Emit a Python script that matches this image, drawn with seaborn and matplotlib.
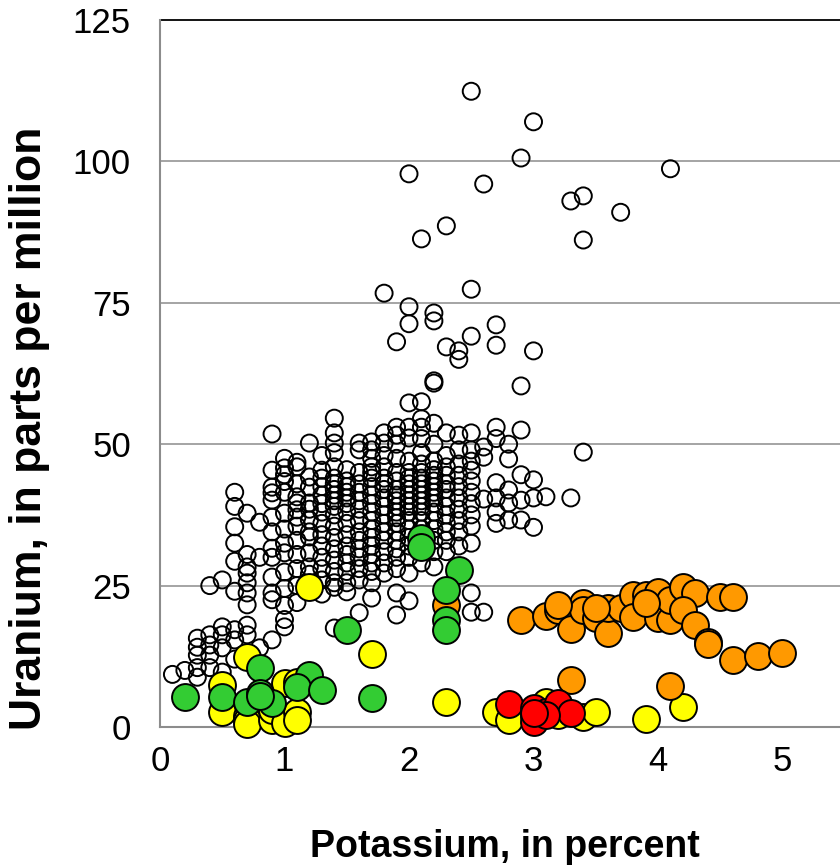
import matplotlib
matplotlib.use("Agg")
import matplotlib.pyplot as plt
import seaborn as sns
import pandas as pd
import numpy as np
from matplotlib.ticker import MultipleLocator

# ---------------- data ----------------
open_cols = {
    0.1: [9.3],
    0.2: [10.0],
    0.3: [15.7, 14.1, 12.7, 8.8, 10.5],
    0.4: [25.0, 16.3, 14.5, 12.7, 10.5],
    0.5: [26.0, 17.7, 16.3, 9.7, 14.0],
    0.6: [41.5, 39.0, 35.4, 32.5, 29.3, 24.0, 17.2, 15.4, 12.0],
    0.7: [37.8, 30.5, 28.3, 27.2, 25.5, 23.7, 21.6, 18.0, 16.3],
    0.8: [36.2, 30.0, 14.0],
    0.9: [51.8, 45.4, 42.4, 41.4, 40.1, 37.1, 34.5, 31.6, 30.0, 26.5, 23.7, 22.5, 15.4],
    1.0: [47.5, 45.8, 44.6, 43.4, 41.5, 37.8, 35.0, 32.5, 30.8, 27.4, 24.5, 21.5, 19.0, 17.7],
    1.1: [46.8, 46.0, 43.0, 40.7, 39.6, 38.4, 37.1, 35.5, 33.0, 30.5, 28.0, 25.0, 22.0],
    1.2: [50.2, 44.2, 42.4, 39.6, 38.5, 36.6, 34.5, 33.6, 30.8, 28.3, 27.0],
    1.3: [48.0, 45.4, 44.0, 42.5, 41.0, 39.5, 38.0, 36.0, 34.0, 32.0, 30.0, 28.0, 26.0, 23.5],
    1.4: [54.6, 52.0, 50.2, 48.5, 46.0, 44.0, 43.0, 42.0, 41.0, 40.0, 39.0, 37.5, 35.5,
          33.5, 31.5, 29.5, 27.5, 25.5, 24.7, 17.5],
    1.5: [45.5, 43.5, 42.5, 41.5, 40.5, 39.5, 38.0, 36.0, 34.0, 32.0, 30.5, 29.0, 27.5,
          25.5, 23.9],
    1.6: [50.2, 49.0, 45.0, 43.0, 41.5, 40.0, 38.5, 36.5, 34.5, 33.0, 31.5, 30.0, 28.0,
          26.0, 20.2],
    1.7: [50.4, 49.0, 47.5, 46.0, 45.0, 44.0, 42.5, 41.0, 39.5, 38.0, 36.5, 35.0, 33.5,
          32.0, 30.5, 29.0, 27.5, 25.5, 22.8],
    1.8: [76.7, 52.0, 50.2, 48.0, 46.0, 44.0, 43.0, 42.0, 40.5, 39.0, 37.5, 36.0, 34.5,
          33.0, 31.0, 29.0, 27.2],
    1.9: [68.1, 53.0, 51.6, 50.0, 47.5, 45.0, 43.5, 42.0, 41.0, 40.0, 39.0, 38.0, 37.0,
          36.0, 34.5, 33.0, 31.5, 30.0, 28.0, 23.7, 19.8],
    2.0: [97.8, 74.3, 71.3, 57.3, 53.0, 51.1, 47.0, 45.0, 44.0, 43.0, 42.0, 41.0, 40.0,
          39.0, 38.0, 36.5, 35.0, 33.5, 32.0, 30.0, 27.2, 22.3],
    2.1: [86.3, 57.5, 54.5, 53.0, 51.0, 48.5, 46.5, 45.0, 44.0, 43.0, 42.0, 41.0, 40.0,
          39.0, 38.0, 36.5, 35.0, 33.0, 31.0, 29.0],
    2.2: [73.2, 71.8, 61.2, 60.8, 53.7, 50.0, 47.0, 45.5, 44.5, 43.5, 42.5, 41.5, 40.5,
          39.5, 38.0, 36.5, 35.0, 33.0, 31.0, 28.3],
    2.3: [88.6, 67.2, 52.0, 48.0, 46.0, 44.5, 43.0, 42.0, 40.5, 39.0, 37.5, 36.0, 34.5,
          33.0, 31.0],
    2.4: [66.5, 65.0, 51.6, 49.0, 46.5, 44.5, 42.5, 40.5, 38.5, 36.5, 34.5, 32.0],
    2.5: [112.4, 77.4, 69.1, 52.0, 49.0, 47.0, 45.4, 43.5, 41.5, 39.5, 37.5, 35.5, 32.5,
          23.7, 20.3],
    2.6: [96.0, 49.5, 47.7, 40.3, 20.3],
    2.7: [71.1, 67.5, 53.0, 51.0, 43.2, 40.5, 38.0, 36.0],
    2.8: [50.0, 47.4, 41.9, 39.6, 36.6],
    2.9: [100.6, 60.3, 52.5, 44.6, 40.1, 36.6],
    3.0: [107.0, 66.5, 43.7, 40.5, 35.3],
    3.1: [40.7],
    3.3: [93.0, 40.5],
    3.4: [93.9, 86.1, 48.6],
    3.7: [91.0],
    4.1: [98.7],
}
open_x = [k for k, v in open_cols.items() for _ in v]
open_y = [y for v in open_cols.values() for y in v]

yellow_x = [1.2, 1.7, 2.3, 0.7, 0.5, 0.5, 0.7, 0.7, 0.7, 0.9, 0.9, 1.0, 1.1, 1.1, 1.0, 1.1,
            2.7, 2.8, 3.1, 3.4, 3.5, 3.9, 4.2, 3.0, 3.2]
yellow_y = [24.8, 12.9, 4.4, 12.4, 7.4, 2.7, 2.0, 1.2, 0.5, 1.2, 3.0, 0.7, 2.7, 1.2, 7.8, 8.0,
            2.7, 1.2, 4.4, 1.8, 2.7, 1.4, 3.5, 2.0, 2.2]

orange_x = [2.3, 2.9, 3.1, 3.2, 3.3, 3.4, 3.4, 3.5, 3.6, 3.6, 3.7, 3.8, 3.8, 3.9, 4.0, 4.0,
            4.1, 4.1, 4.2, 4.3, 4.2, 4.3, 4.4, 4.4, 4.5, 4.6, 4.6, 4.8, 5.0, 3.3, 4.1, 3.2,
            3.5, 3.9]
orange_y = [21.6, 18.9, 19.6, 20.7, 17.3, 21.9, 20.7, 19.3, 16.6, 21.0, 21.0, 23.3, 19.5, 23.3,
            23.9, 19.3, 18.9, 22.4, 24.8, 23.7, 20.7, 18.0, 15.0, 14.6, 23.0, 23.0, 11.8, 12.5,
            13.1, 8.3, 7.3, 21.5, 21.0, 22.0]

green_x = [0.2, 0.5, 0.8, 0.7, 0.8, 0.9, 0.8, 1.2, 1.1, 1.3, 1.7, 1.5, 2.1, 2.1, 2.4, 2.3,
           2.3, 2.3]
green_y = [5.3, 5.3, 10.4, 4.4, 6.0, 4.2, 5.5, 9.2, 7.0, 6.5, 5.1, 17.1, 33.4, 31.8, 27.8,
           24.2, 18.9, 17.2]

red_x = [2.8, 3.0, 3.0, 3.1, 3.2, 3.3, 3.1, 3.0]
red_y = [4.0, 3.4, 0.9, 2.7, 4.2, 2.4, 2.2, 2.5]

x_ticks = [0, 1, 2, 3, 4, 5]
y_ticks = [0, 25, 50, 75, 100, 125]
x_label = "Potassium, in percent"
y_label = "Uranium, in parts per million"

# ---------------- plotting ----------------
sns.set_style("white")
plt.rcParams["font.family"] = ["Liberation Sans", "DejaVu Sans"]
plt.rcParams["text.color"] = "black"
plt.rcParams["axes.labelcolor"] = "black"

fig = plt.figure(figsize=(8.4, 8.66), dpi=100)
ax = fig.add_axes([160 / 840, 139 / 866, 680 / 840, 707 / 866])

grid_c = "#8c8c8c"
for yv in y_ticks[1:-1]:
    ax.axhline(yv, color=grid_c, lw=1.1, zorder=0)
ax.axhline(y_ticks[-1], color="black", lw=1.3, zorder=0, clip_on=False)

df_open = pd.DataFrame({"x": open_x, "y": open_y})
sns.scatterplot(data=df_open, x="x", y="y", ax=ax, s=150, marker="o",
                edgecolor="black", linewidth=1.4, zorder=2, clip_on=False, legend=False)
ax.collections[-1].set_facecolor("none")

groups = [
    (yellow_x, yellow_y, "#FFFF00", 3),
    (orange_x, orange_y, "#FF9900", 4),
    (green_x, green_y, "#33CC33", 5),
    (red_x, red_y, "#FF0000", 6),
]
for gx, gy, col, z in groups:
    dfg = pd.DataFrame({"x": gx, "y": gy})
    sns.scatterplot(data=dfg, x="x", y="y", ax=ax, s=375, color=col,
                    edgecolor="black", linewidth=1.4, zorder=z, clip_on=False, legend=False)

ax.set_xlim(0, 680 / 124.5)
ax.set_ylim(0, 125)
ax.set_xticks(x_ticks)
ax.set_yticks(y_ticks)
ax.xaxis.set_minor_locator(MultipleLocator(0.2))
ax.yaxis.set_minor_locator(MultipleLocator(5))

for side in ["top", "right"]:
    ax.spines[side].set_visible(False)
for side in ["left", "bottom"]:
    ax.spines[side].set_color(grid_c)
    ax.spines[side].set_linewidth(1.5)
    ax.spines[side].set_zorder(1)

ax.tick_params(axis="both", which="major", direction="in", length=8, width=1.3,
               color=grid_c, labelsize=25, labelcolor="black")
ax.tick_params(axis="both", which="minor", direction="in", length=5, width=1.3, color=grid_c)
ax.tick_params(axis="y", which="major", pad=21)
ax.tick_params(axis="x", which="major", pad=13)

ax.set_xlabel(x_label, fontsize=27, fontweight="bold", color="black")
ax.set_ylabel(y_label, fontsize=32, fontweight="bold", color="black")
# label positions (axes coords)
ax.xaxis.set_label_coords((505 - 160) / 680, -(847 - 727) / 707)
ax.yaxis.set_label_coords(-(160 - 30) / 680, (727 - 428) / 707)
ax.xaxis.label.set_va("center")
ax.yaxis.label.set_va("center")

fig.savefig("out.png", dpi=100)
